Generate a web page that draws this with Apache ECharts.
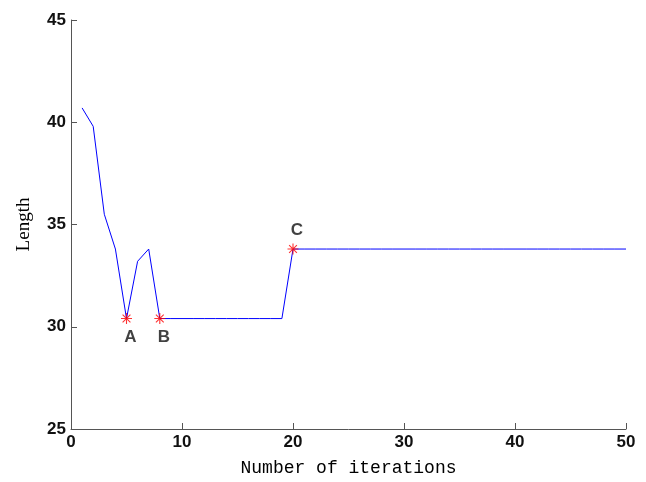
<!DOCTYPE html>
<html>
<head>
<meta charset="utf-8">
<script src="https://cdn.jsdelivr.net/npm/echarts@6/dist/echarts.min.js"></script>
<style>
  html, body { margin: 0; padding: 0; background: #fff; }
  #chart { width: 646px; height: 482px; }
</style>
</head>
<body>
<div id="chart"></div>
<script>
// iterations 1..50 and path length
const iterations = [1, 2, 3, 4, 5, 6, 7, 8, 9, 10, 11, 12, 13, 14, 15, 16, 17, 18, 19, 20,
  21, 22, 23, 24, 25, 26, 27, 28, 29, 30, 31, 32, 33, 34, 35, 36, 37, 38, 39, 40,
  41, 42, 43, 44, 45, 46, 47, 48, 49, 50]
const lengths = [40.7, 39.8, 35.5, 33.8, 30.4, 33.2, 33.8, 30.4, 30.4, 30.4, 30.4, 30.4, 30.4, 30.4, 30.4, 30.4, 30.4, 30.4, 30.4, 33.8,
  33.8, 33.8, 33.8, 33.8, 33.8, 33.8, 33.8, 33.8, 33.8, 33.8, 33.8, 33.8, 33.8, 33.8, 33.8, 33.8, 33.8, 33.8, 33.8, 33.8,
  33.8, 33.8, 33.8, 33.8, 33.8, 33.8, 33.8, 33.8, 33.8, 33.8]

// marked points
const markIters = [5, 8, 20]
const markNames = ['A', 'B', 'C']
const markLabelPos = ['bottom', 'bottom', 'top']

const xTicks = [0, 10, 20, 30, 40, 50]
const yTicks = [25, 30, 35, 40, 45]

// asterisk: vertical, horizontal and two diagonal strokes
const asterisk = 'path://M-0.5,-5L0.5,-5L0.5,5L-0.5,5Z' +
  'M-5,-0.5L5,-0.5L5,0.5L-5,0.5Z' +
  'M-3.9,-3.2L-3.2,-3.9L3.9,3.2L3.2,3.9Z' +
  'M3.2,-3.9L3.9,-3.2L-3.2,3.9L-3.9,3.2Z'

const lineData = iterations.map((x, i) => [x, lengths[i]])
const markData = markIters.map((x, i) => ({
  value: [x, lengths[iterations.indexOf(x)]],
  label: {
    show: true,
    formatter: markNames[i],
    position: markLabelPos[i],
    distance: 5,
    offset: [4, 0]
  }
}))

const axisColor = '#555'
const tickFont = { fontFamily: 'Liberation Sans, Arial, sans-serif', fontSize: 17, fontWeight: 'bold', color: '#111' }

const chart = echarts.init(document.getElementById('chart'), null, { renderer: 'canvas' })
chart.setOption({
  backgroundColor: '#ffffff',
  animation: false,
  grid: { left: 71, right: 20, top: 20, bottom: 53 },
  xAxis: {
    type: 'value',
    min: xTicks[0],
    max: xTicks[xTicks.length - 1],
    interval: 10,
    name: 'Number of iterations',
    nameLocation: 'middle',
    nameGap: 30,
    nameTextStyle: { fontFamily: 'Liberation Mono, monospace', fontSize: 18, color: '#000' },
    axisLine: { lineStyle: { color: axisColor, width: 1 } },
    axisTick: { inside: true, length: 6, lineStyle: { color: axisColor } },
    axisLabel: Object.assign({ margin: 5 }, tickFont),
    splitLine: { show: false }
  },
  yAxis: {
    type: 'value',
    min: yTicks[0],
    max: yTicks[yTicks.length - 1],
    interval: 5,
    name: 'Length',
    nameLocation: 'middle',
    nameGap: 37,
    nameTextStyle: { fontFamily: 'Liberation Serif, serif', fontSize: 19, color: '#000' },
    axisLine: { show: true, lineStyle: { color: axisColor, width: 1 } },
    axisTick: { show: true, inside: true, length: 6, lineStyle: { color: axisColor } },
    axisLabel: Object.assign({ margin: 5 }, tickFont),
    splitLine: { show: false }
  },
  series: [{
    type: 'line',
    data: lineData,
    showSymbol: false,
    lineStyle: { color: '#0000ff', width: 1 },
    z: 2
  }, {
    type: 'scatter',
    data: markData,
    symbol: asterisk,
    symbolSize: 11,
    itemStyle: { color: '#ff0000' },
    label: { color: '#111', fontFamily: 'Liberation Sans, Arial, sans-serif', fontSize: 17, fontWeight: 'bold' },
    z: 3
  }]
})
</script>
</body>
</html>
